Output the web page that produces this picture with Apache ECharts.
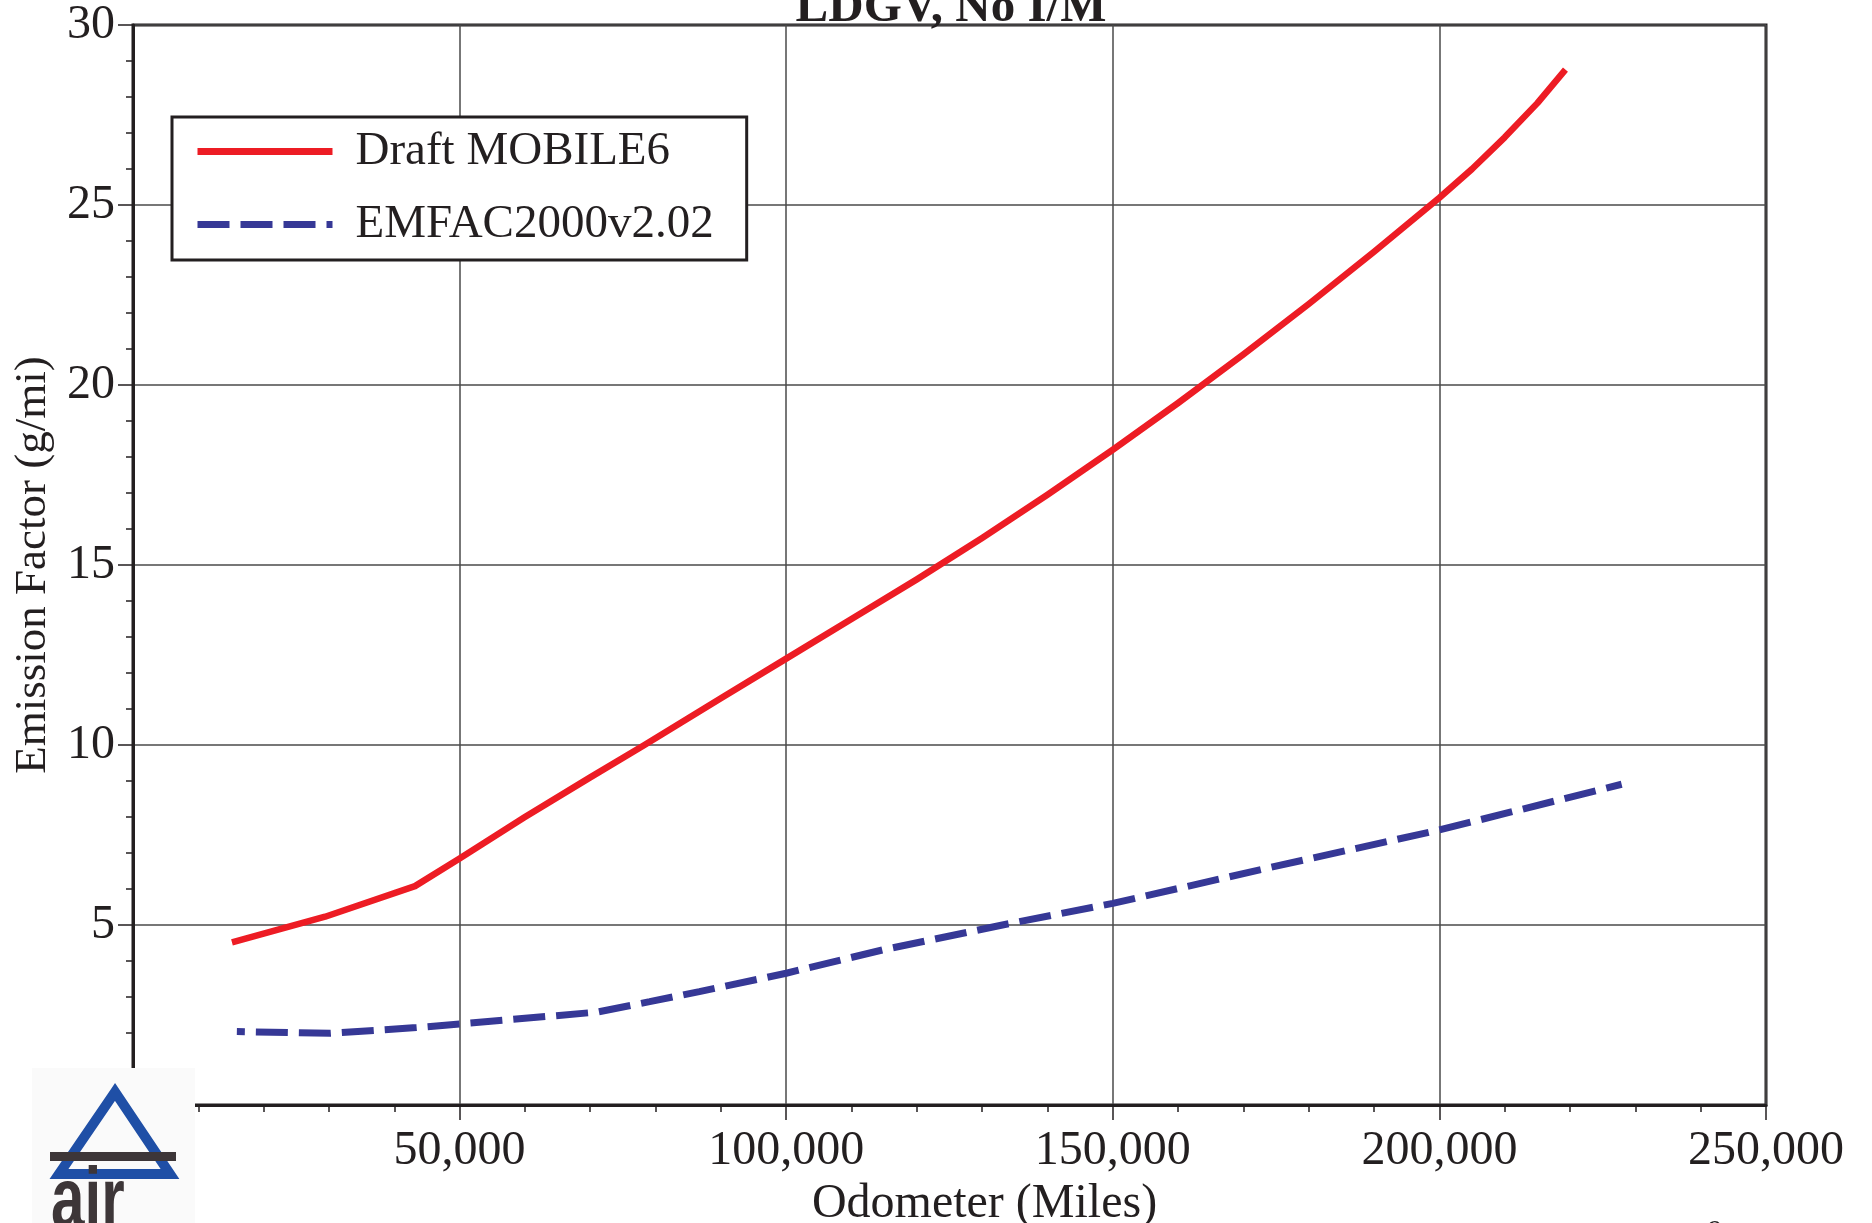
<!DOCTYPE html>
<html>
<head>
<meta charset="utf-8">
<script src="https://cdn.jsdelivr.net/npm/echarts@6/dist/echarts.min.js"></script>
<style>
html,body{margin:0;padding:0;background:#fff;}
#chart{width:1872px;height:1223px;}
</style>
</head>
<body>
<div id="chart"></div>
<script>
// ---- Data ----
const titleText = 'LDGV, No I/M';
const xAxisName = 'Odometer (Miles)';
const yAxisName = 'Emission Factor (g/mi)';
const seriesNames = ['Draft MOBILE6', 'EMFAC2000v2.02'];

const mobileOdometer = [15150, 29410, 43170, 50000, 60000, 70000, 78300, 90000, 100000, 110000, 120000, 130000, 140000, 150000, 160000, 170000, 180000, 190000, 200000, 205000, 210000, 215000, 219300];
const mobileEF       = [4.52, 5.23, 6.08, 6.85, 8.0, 9.1, 10.0, 11.3, 12.4, 13.5, 14.6, 15.75, 16.95, 18.2, 19.5, 20.85, 22.25, 23.7, 25.2, 26.0, 26.88, 27.83, 28.76];

const emfacOdometer = [15900, 30200, 43400, 50000, 71000, 79100, 86700, 100000, 114800, 133100, 150000, 173400, 200000, 227900];
const emfacEF       = [2.04, 1.99, 2.15, 2.25, 2.58, 2.87, 3.15, 3.66, 4.31, 5.0, 5.6, 6.57, 7.64, 8.91];

const xMin = 0, xMax = 250000, xInterval = 50000;
const yMin = 0, yMax = 30, yInterval = 5;

// ---- Styling ----
const ink = '#231f20';
const serif = 'Liberation Serif';
const red = '#ed1c24';
const blue = '#363896';

const chart = echarts.init(document.getElementById('chart'), null, {renderer: 'canvas'});

function pair(xs, ys) { return xs.map((x, i) => [x, ys[i]]); }

const option = {
  backgroundColor: '#ffffff',
  animation: false,
  grid: {
    left: 133, right: 106, top: 25, bottom: 118,
    show: true, borderColor: ink, borderWidth: 3,
    containLabel: false, outerBoundsMode: 'none'
  },
  legend: {
    orient: 'vertical',
    left: 172, top: 117,
    backgroundColor: '#ffffff',
    borderColor: ink, borderWidth: 3,
    padding: [11, 33, 12, 22],
    itemWidth: 135, itemHeight: 45, itemGap: 26,
    itemStyle: {color: 'rgba(0,0,0,0)', borderWidth: 0, opacity: 0},
    lineStyle: {width: 7, dashOffset: 0},
    textStyle: {fontFamily: serif, fontSize: 47, color: ink, padding: [0, 0, 0, 18]},
    data: seriesNames
  },
  xAxis: {
    type: 'value', min: xMin, max: xMax, interval: xInterval,
    name: xAxisName, nameLocation: 'middle', nameGap: 67,
    nameTextStyle: {fontFamily: serif, fontSize: 48, color: ink, padding: [0, 0, 0, 70]},
    axisLine: {show: true, onZero: false, lineStyle: {color: ink, width: 3}},
    axisTick: {show: true, inside: false, length: 15, lineStyle: {color: ink, width: 1.5}},
    minorTick: {show: true, splitNumber: 5, length: 7, lineStyle: {color: ink, width: 1.5}},
    axisLabel: {
      showMinLabel: false, margin: 22,
      fontFamily: serif, fontSize: 48, color: ink,
      formatter: v => v.toLocaleString('en-US')
    },
    splitLine: {show: true, lineStyle: {color: '#4a4a4a', width: 1.5}},
    minorSplitLine: {show: false}
  },
  yAxis: {
    type: 'value', min: yMin, max: yMax, interval: yInterval,
    name: yAxisName, nameLocation: 'middle', nameGap: 72, nameRotate: 90,
    nameTextStyle: {fontFamily: serif, fontSize: 45, color: ink},
    axisLine: {show: true, onZero: false, lineStyle: {color: ink, width: 3}},
    axisTick: {show: true, inside: false, length: 15, lineStyle: {color: ink, width: 1.5}},
    minorTick: {show: true, splitNumber: 5, length: 7, lineStyle: {color: ink, width: 1.5}},
    axisLabel: {showMinLabel: false, margin: 18, fontFamily: serif, fontSize: 48, color: ink},
    splitLine: {show: true, lineStyle: {color: '#4a4a4a', width: 1.5}}
  },
  series: [
    {
      name: seriesNames[0], type: 'line', symbol: 'none', smooth: false,
      data: pair(mobileOdometer, mobileEF),
      lineStyle: {color: red, width: 6.5, join: 'round'},
      itemStyle: {color: red}, z: 3
    },
    {
      name: seriesNames[1], type: 'line', symbol: 'none', smooth: false,
      data: pair(emfacOdometer, emfacEF),
      lineStyle: {color: blue, width: 7, type: [32, 11], dashOffset: 24, cap: 'butt'},
      itemStyle: {color: blue}, z: 3
    }
  ],
  graphic: [
    {
      type: 'text', x: 951, y: 8, z: 50,
      style: {text: titleText, fontFamily: serif, fontWeight: 'bold', fontSize: 49, fill: ink,
               align: 'center', verticalAlign: 'middle'}
    },
    // logo
    {type: 'rect', z: 100, shape: {x: 32, y: 1068, width: 163, height: 160}, style: {fill: '#fafafa'}},
    {type: 'polygon', z: 101, shape: {points: [[115, 1092], [59, 1174], [170, 1174]]},
     style: {fill: 'none', stroke: '#1f4fa6', lineWidth: 10, lineJoin: 'miter'}},
    {type: 'rect', z: 102, shape: {x: 50, y: 1152, width: 126, height: 9}, style: {fill: '#3d3638'}},
    {type: 'text', z: 102, x: 51, y: 1203, scaleX: 0.7,
     style: {text: 'air', fontFamily: 'Liberation Sans', fontWeight: 'bold', fontSize: 86, fill: '#3d3638',
             align: 'left', verticalAlign: 'middle'}},
    // partial page number at bottom edge
    {type: 'text', z: 50, x: 1715, y: 1232, style: {text: '9', fontFamily: serif, fontSize: 30, fill: ink,
             align: 'center', verticalAlign: 'middle'}}
  ]
};
chart.setOption(option);
</script>
</body>
</html>
